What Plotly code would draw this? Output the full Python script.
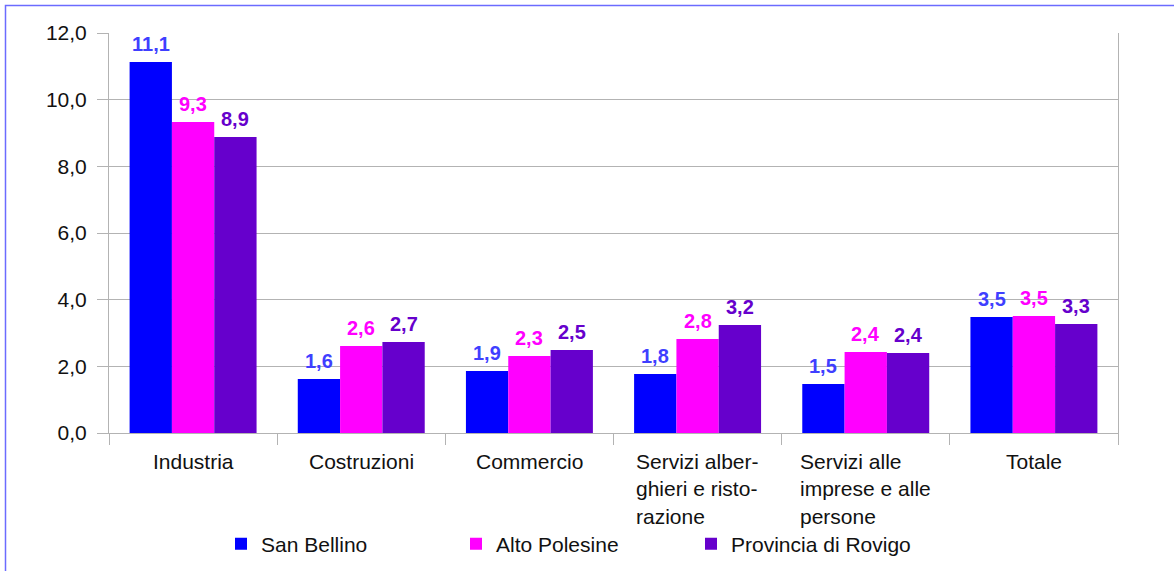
import plotly.graph_objects as go

categories = ["Industria", "Costruzioni", "Commercio",
              "Servizi alberghieri e ristorazione",
              "Servizi alle imprese e alle persone", "Totale"]
tick_labels = ["Industria", "Costruzioni", "Commercio",
               "Servizi alber-<br>ghieri e risto-<br>razione",
               "Servizi alle<br>imprese e alle<br>persone", "Totale"]

san_bellino = [11.13, 1.62, 1.86, 1.77, 1.47, 3.48]
alto_polesine = [9.33, 2.61, 2.31, 2.82, 2.43, 3.51]
provincia_rovigo = [8.88, 2.73, 2.49, 3.24, 2.40, 3.27]

series = [
    ("San Bellino", san_bellino, "#0000ff", "#3f3fff"),
    ("Alto Polesine", alto_polesine, "#ff00ff", "#ff00ff"),
    ("Provincia di Rovigo", provincia_rovigo, "#6600cc", "#6600cc"),
]

FONT = "Liberation Sans, Arial, sans-serif"
GRID = "#b3b3b3"

fig = go.Figure()
for name, vals, col, _ in series:
    fig.add_trace(go.Bar(name=name, x=categories, y=vals,
                         marker=dict(color=col, line=dict(width=0))))

# value labels above bars
bar_px = 1009 / 6 * (1 - 0.245) / 3
annotations = []
for i, (name, vals, _, tcol) in enumerate(series):
    for cat, v in zip(categories, vals):
        annotations.append(dict(
            x=cat, y=v, xref="x", yref="y", showarrow=False,
            text="<b>" + f"{v:.1f}".replace(".", ",") + "</b>",
            font=dict(family=FONT, size=20, color=tcol),
            yanchor="bottom", xanchor="center",
            xshift=(i - 1) * bar_px, yshift=5))

# category labels, lines left aligned like the original
for cat, lab in zip(categories, tick_labels):
    annotations.append(dict(
        x=cat, y=0, xref="x", yref="paper", showarrow=False,
        text=lab, align="left",
        font=dict(family=FONT, size=21, color="#111111"),
        yanchor="top", xanchor="center", yshift=-15))

fig.update_layout(
    width=1174, height=571,
    margin=dict(l=109, r=56, t=33, b=138),
    paper_bgcolor="white", plot_bgcolor="white",
    barmode="group", bargap=0.245, bargroupgap=0,
    separators=",.",
    font=dict(family=FONT, size=21, color="#111111"),
    showlegend=True,
    legend=dict(orientation="h", xref="container", yref="container",
                x=221 / 1174, y=1 - 544 / 571, xanchor="left", yanchor="middle",
                entrywidth=190, font=dict(family=FONT, size=21, color="#111111")),
    annotations=annotations,
    shapes=[dict(type="rect", xref="paper", yref="paper",
                 x0=(5.5 - 109) / 1009, x1=1.2, y0=-0.6, y1=(433 - 5.5) / 400,
                 line=dict(color="#6b6bff", width=1.5), layer="below")],
)
fig.update_xaxes(type="category", showticklabels=False, tickson="boundaries",
                 ticks="outside", ticklen=11, tickcolor=GRID,
                 showline=True, linecolor=GRID, linewidth=1, showgrid=False)
fig.update_yaxes(range=[0, 12], dtick=2, tickformat=".1f",
                 ticks="outside", ticklen=11, tickcolor=GRID, ticklabelstandoff=6,
                 showline=True, linecolor=GRID, linewidth=1, mirror=True,
                 showgrid=True, gridcolor=GRID, gridwidth=1, zeroline=False)

fig.write_html("out.html", config={"displayModeBar": False},
               post_script="document.body.style.margin='0';")
